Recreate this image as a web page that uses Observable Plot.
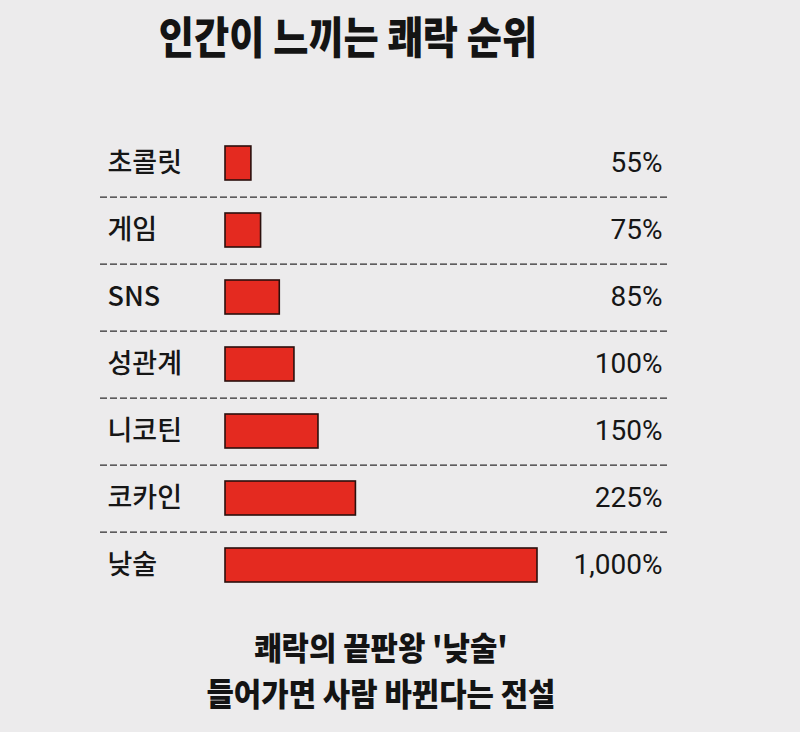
<!DOCTYPE html>
<html>
<head>
<meta charset="utf-8">
<script src="https://cdn.jsdelivr.net/npm/d3@7"></script>
<script src="https://cdn.jsdelivr.net/npm/@observablehq/plot@0.6"></script>
<style>
  html, body { margin: 0; padding: 0; }
  body { width: 800px; height: 732px; background: #ecebec; position: relative; overflow: hidden;
         font-family: "Noto Sans CJK KR", "Noto Sans", sans-serif; color: #141414; }
  .t { position: absolute; white-space: nowrap; font-weight: 900; transform-origin: center top; text-align: center; }
  #title { top: 13px; font-size: 44px; line-height: 1; left: 48px; width: 600px; transform: scaleX(0.87); }
  #cap { top: 623px; font-size: 32px; line-height: 46px; left: 81px; width: 600px; transform: scaleX(0.93); }
  #chart { position: absolute; top: 128px; left: 0; }
</style>
</head>
<body>
<div class="t" id="title">인간이 느끼는 쾌락 순위</div>
<div id="chart"></div>
<div class="t" id="cap">쾌락의 끝판왕 '낮술'<br>들어가면 사람 바뀐다는 전설</div>
<script>
// Data
const categories = ["초콜릿", "게임", "SNS", "성관계", "니코틴", "코카인", "낮술"];
const percentValues = [55, 75, 85, 100, 150, 225, 1000];
// Bar lengths as drawn in the original (relative units, 1,000% bar = 100)
const barLengths = [8.3, 11.4, 17.4, 22.1, 29.8, 41.8, 100];

const data = categories.map((c, i) => ({category: c, value: percentValues[i], length: barLengths[i]}));

const H = 471;
const step = H / categories.length;
const fmt = d3.format(",");

const chart = Plot.plot({
  width: 800,
  height: H,
  marginLeft: 100,
  marginRight: 132,
  marginTop: 0,
  marginBottom: 0,
  x: {domain: [0, 100], range: [225, 537], axis: null},
  y: {domain: categories, paddingInner: 0.5, paddingOuter: 0.25, axis: null},
  style: {background: "transparent", overflow: "visible"},
  marks: [
    Plot.ruleY(categories.slice(0, -1), {dy: step / 2, stroke: "#2e2e2e", strokeWidth: 1.3, strokeDasharray: "7,3"}),
    Plot.barX(data, {y: "category", x1: 0, x2: "length", fill: "#e42a20", stroke: "#2b100d", strokeWidth: 1.6}),
    Plot.text(data, {y: "category", text: "category", frameAnchor: "left", dx: 7, textAnchor: "start",
      fontSize: 27, fontWeight: 500, fill: "#161616", fontFamily: "'Noto Sans CJK KR', Roboto, sans-serif"}),
    Plot.text(data, {y: "category", text: d => fmt(d.value) + "%", frameAnchor: "right", dx: -6, textAnchor: "end",
      fontSize: 28, fontWeight: 400, fill: "#161616", fontFamily: "Roboto, 'Noto Sans', sans-serif"})
  ]
});
document.getElementById("chart").appendChild(chart);
</script>
</body>
</html>
